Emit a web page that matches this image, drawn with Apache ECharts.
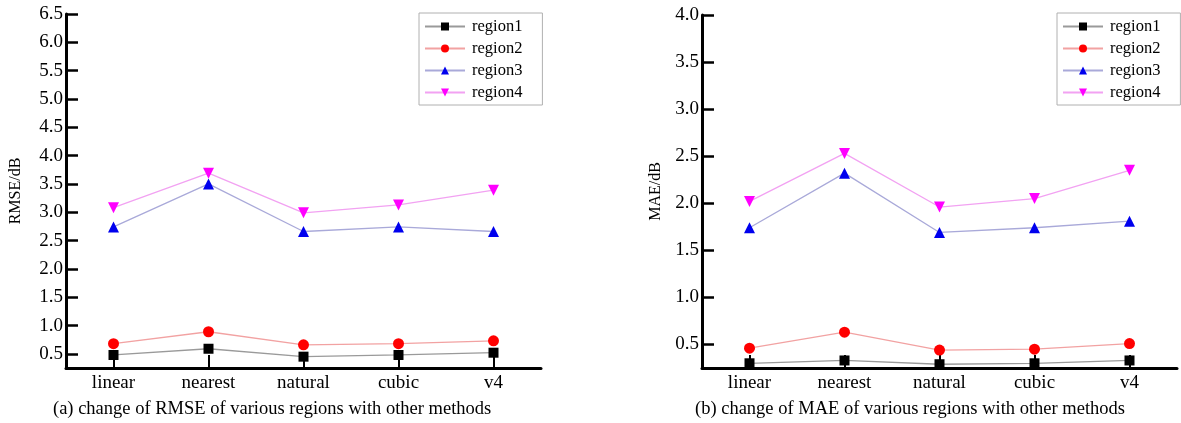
<!DOCTYPE html>
<html>
<head>
<meta charset="utf-8">
<script src="https://cdn.jsdelivr.net/npm/echarts@6/dist/echarts.min.js"></script>
<style>
html,body{margin:0;padding:0;background:#fff;}
#c{width:1181px;height:423px;}
</style>
</head>
<body>
<div id="c"></div>
<script>
const methods = ['linear', 'nearest', 'natural', 'cubic', 'v4'];
const regionNames = ['region1', 'region2', 'region3', 'region4'];

const rmseRegion1 = [0.48, 0.59, 0.45, 0.48, 0.52];
const rmseRegion2 = [0.68, 0.89, 0.66, 0.68, 0.73];
const rmseRegion3 = [2.74, 3.50, 2.66, 2.74, 2.66];
const rmseRegion4 = [3.08, 3.69, 2.99, 3.13, 3.39];

const maeRegion1 = [0.30, 0.33, 0.29, 0.30, 0.33];
const maeRegion2 = [0.46, 0.63, 0.44, 0.45, 0.51];
const maeRegion3 = [1.74, 2.32, 1.69, 1.74, 1.81];
const maeRegion4 = [2.02, 2.53, 1.96, 2.05, 2.35];

const rmseTicks = [0.5, 1.0, 1.5, 2.0, 2.5, 3.0, 3.5, 4.0, 4.5, 5.0, 5.5, 6.0, 6.5];
const maeTicks = [0.5, 1.0, 1.5, 2.0, 2.5, 3.0, 3.5, 4.0];

const captionA = '(a) change of RMSE of various regions with other methods';
const captionB = '(b) change of MAE of various regions with other methods';

const FONT = "'Liberation Serif', 'Times New Roman', serif";
const styles = [
  { line: '#9a9a9a', mark: '#000000', symbol: 'rect', rotate: 0, size: 10 },
  { line: '#f2a2a2', mark: '#ff0000', symbol: 'circle', rotate: 0, size: 11 },
  { line: '#a9a9d9', mark: '#0000ee', symbol: 'triangle', rotate: 0, size: 11 },
  { line: '#f2a2f2', mark: '#ff00ff', symbol: 'triangle', rotate: 180, size: 11 }
];

function makeSeries(dataArrs, idx) {
  return dataArrs.map((d, i) => ({
    name: regionNames[i],
    type: 'line',
    xAxisIndex: idx, yAxisIndex: idx,
    data: d,
    symbol: styles[i].symbol,
    symbolRotate: styles[i].rotate,
    symbolSize: styles[i].size,
    lineStyle: { color: styles[i].line, width: 1.3 },
    itemStyle: { color: styles[i].mark },
    z: 3 + i,
    animation: false
  }));
}

function xAxis(idx) {
  return {
    type: 'category', gridIndex: idx, data: methods, boundaryGap: true,
    axisLine: { lineStyle: { color: '#000', width: 3 } },
    axisTick: { show: true, inside: true, length: 13, alignWithLabel: true, lineStyle: { color: '#000', width: 2 } },
    axisLabel: { color: '#000', fontFamily: FONT, fontSize: 19, margin: 6 },
    splitLine: { show: false }
  };
}
function yAxis(idx, max, ticks, name, gap) {
  return {
    type: 'value', gridIndex: idx, min: 0.25, max: max,
    name: name, nameLocation: 'middle', nameRotate: 90, nameGap: gap,
    nameTextStyle: { color: '#000', fontFamily: FONT, fontSize: 16 },
    axisLine: { show: true, lineStyle: { color: '#000', width: 3 } },
    axisTick: { show: true, inside: true, length: 12, customValues: ticks, lineStyle: { color: '#000', width: 2.5 } },
    axisLabel: { color: '#000', fontFamily: FONT, fontSize: 19, margin: 3, customValues: ticks,
      formatter: v => Number(v).toFixed(1) },
    splitLine: { show: false }
  };
}
function legend(left, top) {
  return {
    data: regionNames, orient: 'vertical', left: left, top: top,
    itemWidth: 40, itemHeight: 10, itemGap: 5,
    padding: [5, 20, 4, 5],
    borderColor: '#b0b0b0', borderWidth: 1,
    textStyle: { color: '#000', fontFamily: FONT, fontSize: 16.5, padding: [0, 0, 0, 2] }
  };
}

const chart = echarts.init(document.getElementById('c'), null, { renderer: 'canvas' });
chart.setOption({
  backgroundColor: '#fff',
  animation: false,
  grid: [
    { left: 66, right: 640, top: 14, bottom: 55 },
    { left: 702, right: 4, top: 15, bottom: 55 }
  ],
  xAxis: [xAxis(0), xAxis(1)],
  yAxis: [yAxis(0, 6.5, rmseTicks, 'RMSE/dB', 42), yAxis(1, 4.0, maeTicks, 'MAE/dB', 38)],
  legend: [legend(419, 13), legend(1057, 13)],
  series: [
    ...makeSeries([rmseRegion1, rmseRegion2, rmseRegion3, rmseRegion4], 0),
    ...makeSeries([maeRegion1, maeRegion2, maeRegion3, maeRegion4], 1)
  ],
  graphic: [
    { type: 'text', left: 53, top: 400, style: { text: captionA, fill: '#000', font: "18.5px 'Liberation Serif', 'Times New Roman', serif" } },
    { type: 'text', left: 695, top: 400, style: { text: captionB, fill: '#000', font: "18.5px 'Liberation Serif', 'Times New Roman', serif" } }
  ]
});
</script>
</body>
</html>
